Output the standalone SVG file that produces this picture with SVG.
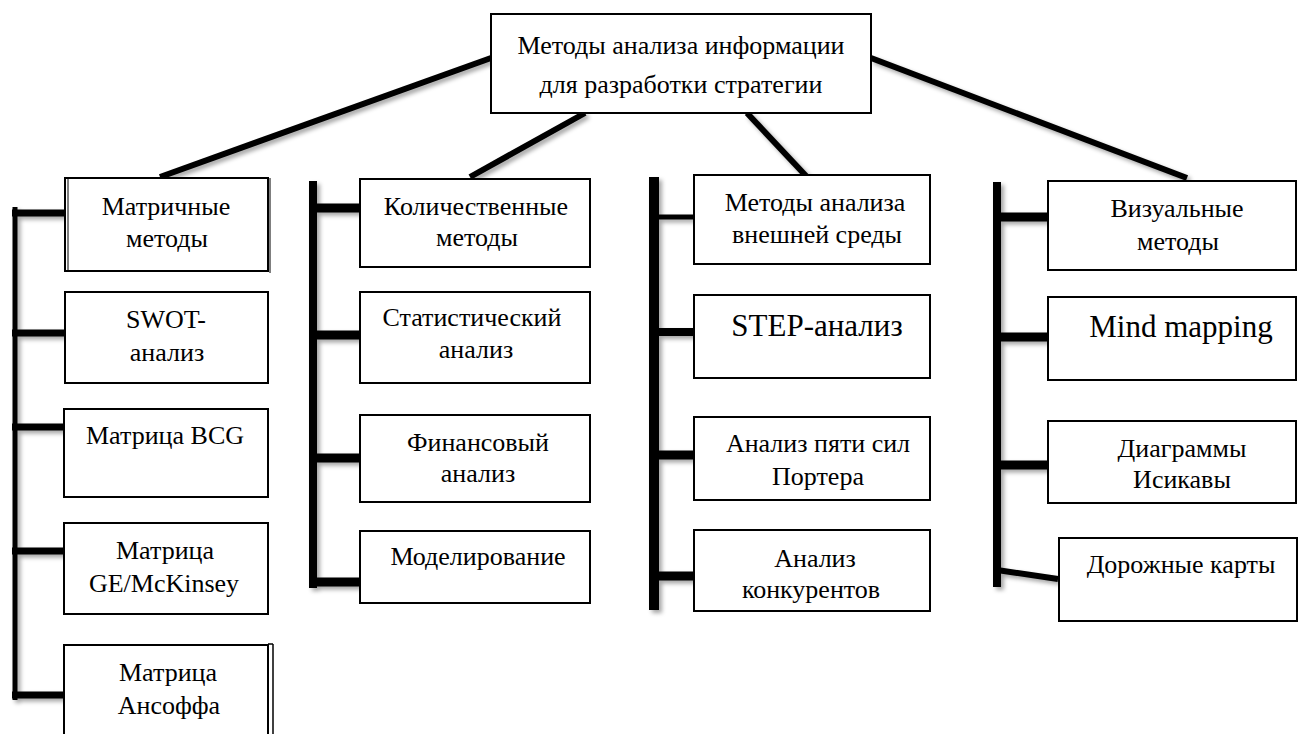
<svg xmlns="http://www.w3.org/2000/svg" width="1299" height="734" viewBox="0 0 1299 734">
<defs>
<style>
.box{fill:#fff;stroke:#000;stroke-width:2}
.t{font-family:"Liberation Serif","DejaVu Serif",serif;font-size:26px;fill:#000;text-anchor:middle}
.big{font-size:31px}
.c{stroke:#000;fill:none;stroke-linecap:butt}
</style>
<filter id="sh" x="-10%" y="-10%" width="130%" height="130%">
<feDropShadow dx="3" dy="3" stdDeviation="2" flood-color="#000" flood-opacity="0.35"/>
</filter>
</defs>
<rect width="1299" height="734" fill="#fff"/>
<g id="connectors" filter="url(#sh)">
<g class="c" stroke-width="6">
<line x1="491" y1="58" x2="160" y2="177"/>
<line x1="585" y1="113" x2="470" y2="177"/>
<line x1="747" y1="113" x2="807" y2="177"/>
<line x1="871" y1="58" x2="1187" y2="178"/>
</g>
<line class="c" x1="15" y1="207" x2="15" y2="700" stroke-width="5"/>
<g class="c" stroke-width="7">
<line x1="12" y1="213" x2="65" y2="213"/>
<line x1="12" y1="333" x2="65" y2="333"/>
<line x1="12" y1="427" x2="65" y2="427"/>
<line x1="12" y1="551" x2="65" y2="551"/>
<line x1="12" y1="695" x2="65" y2="695"/>
</g>
<line class="c" x1="313" y1="181" x2="313" y2="588" stroke-width="8"/>
<g class="c" stroke-width="9">
<line x1="313" y1="208" x2="360" y2="208"/>
<line x1="313" y1="335" x2="360" y2="335"/>
<line x1="313" y1="458" x2="360" y2="458"/>
<line x1="313" y1="582" x2="360" y2="582"/>
</g>
<line class="c" x1="654" y1="177" x2="654" y2="610" stroke-width="10"/>
<line class="c" x1="654" y1="217" x2="694" y2="217" stroke-width="5"/>
<line class="c" x1="654" y1="332" x2="694" y2="332" stroke-width="8"/>
<line class="c" x1="654" y1="455" x2="694" y2="455" stroke-width="9"/>
<line class="c" x1="654" y1="576" x2="694" y2="576" stroke-width="9"/>
<line class="c" x1="997" y1="182" x2="997" y2="587" stroke-width="8"/>
<g class="c" stroke-width="9">
<line x1="997" y1="217" x2="1048" y2="217"/>
<line x1="997" y1="337" x2="1048" y2="337"/>
<line x1="997" y1="465" x2="1048" y2="465"/>
</g>
<line class="c" x1="997" y1="570" x2="1058" y2="579" stroke-width="6"/>
</g>
<g id="root">
<rect class="box" x="491" y="14" width="380" height="99"/>
<text class="t" x="681" y="54" font-size="27">Методы анализа информации</text>
<text class="t" x="681" y="93" font-size="27">для разработки стратегии</text>
</g>
<g id="matrix">
<rect class="box" x="65" y="178" width="203" height="93"/>
<line x1="68" y1="178" x2="68" y2="271" stroke="#000" stroke-width="1"/>
<line x1="270" y1="178" x2="270" y2="273" stroke="#000" stroke-width="1"/>
<text class="t" x="166" y="215">Матричные</text>
<text class="t" x="167" y="247">методы</text>
</g>
<g id="swot">
<rect class="box" x="65" y="292" width="203" height="91"/>
<text class="t" x="166" y="328">SWOT-</text>
<text class="t" x="167" y="361">анализ</text>
</g>
<g id="bcg">
<rect class="box" x="64" y="409" width="204" height="88"/>
<text class="t" x="165" y="444">Матрица BCG</text>
</g>
<g id="ge">
<rect class="box" x="64" y="523" width="204" height="91"/>
<text class="t" x="165" y="559">Матрица</text>
<text class="t" x="164" y="592">GE/McKinsey</text>
</g>
<g id="ansoff">
<rect class="box" x="64" y="645" width="204" height="100"/>
<line x1="273" y1="644" x2="273" y2="734" stroke="#000" stroke-width="1.5"/>
<line x1="268" y1="644" x2="273" y2="644" stroke="#000" stroke-width="1.5"/>
<text class="t" x="168" y="681">Матрица</text>
<text class="t" x="169" y="714">Ансоффа</text>
</g>
<g id="quant">
<rect class="box" x="360" y="179" width="230" height="88"/>
<text class="t" x="476" y="215">Количественные</text>
<text class="t" x="477" y="246">методы</text>
</g>
<g id="stat">
<rect class="box" x="360" y="292" width="230" height="91"/>
<text class="t" x="472" y="326">Статистический</text>
<text class="t" x="476" y="358">анализ</text>
</g>
<g id="fin">
<rect class="box" x="360" y="415" width="230" height="87"/>
<text class="t" x="478" y="451">Финансовый</text>
<text class="t" x="478" y="482">анализ</text>
</g>
<g id="model">
<rect class="box" x="360" y="531" width="230" height="72"/>
<text class="t" x="478" y="565">Моделирование</text>
</g>
<g id="external">
<rect class="box" x="694" y="175" width="236" height="89"/>
<text class="t" x="815" y="211">Методы анализа</text>
<text class="t" x="817" y="243">внешней среды</text>
</g>
<g id="step">
<rect class="box" x="694" y="295" width="236" height="83"/>
<text class="t big" x="817" y="336" font-size="30">STEP-анализ</text>
</g>
<g id="porter">
<rect class="box" x="694" y="417" width="236" height="83"/>
<text class="t" x="818" y="452">Анализ пяти сил</text>
<text class="t" x="818" y="485">Портера</text>
</g>
<g id="competitors">
<rect class="box" x="694" y="530" width="236" height="81"/>
<text class="t" x="815" y="567">Анализ</text>
<text class="t" x="811" y="598">конкурентов</text>
</g>
<g id="visual">
<rect class="box" x="1048" y="181" width="248" height="89"/>
<text class="t" x="1177" y="217">Визуальные</text>
<text class="t" x="1178" y="250">методы</text>
</g>
<g id="mindmap">
<rect class="box" x="1048" y="297" width="248" height="83"/>
<text class="t big" x="1181" y="337">Mind mapping</text>
</g>
<g id="ishikawa">
<rect class="box" x="1048" y="421" width="248" height="82"/>
<text class="t" x="1182" y="457">Диаграммы</text>
<text class="t" x="1182" y="488">Исикавы</text>
</g>
<g id="roadmap">
<rect class="box" x="1059" y="538" width="238" height="83"/>
<text class="t" x="1181" y="573">Дорожные карты</text>
</g>
</svg>
